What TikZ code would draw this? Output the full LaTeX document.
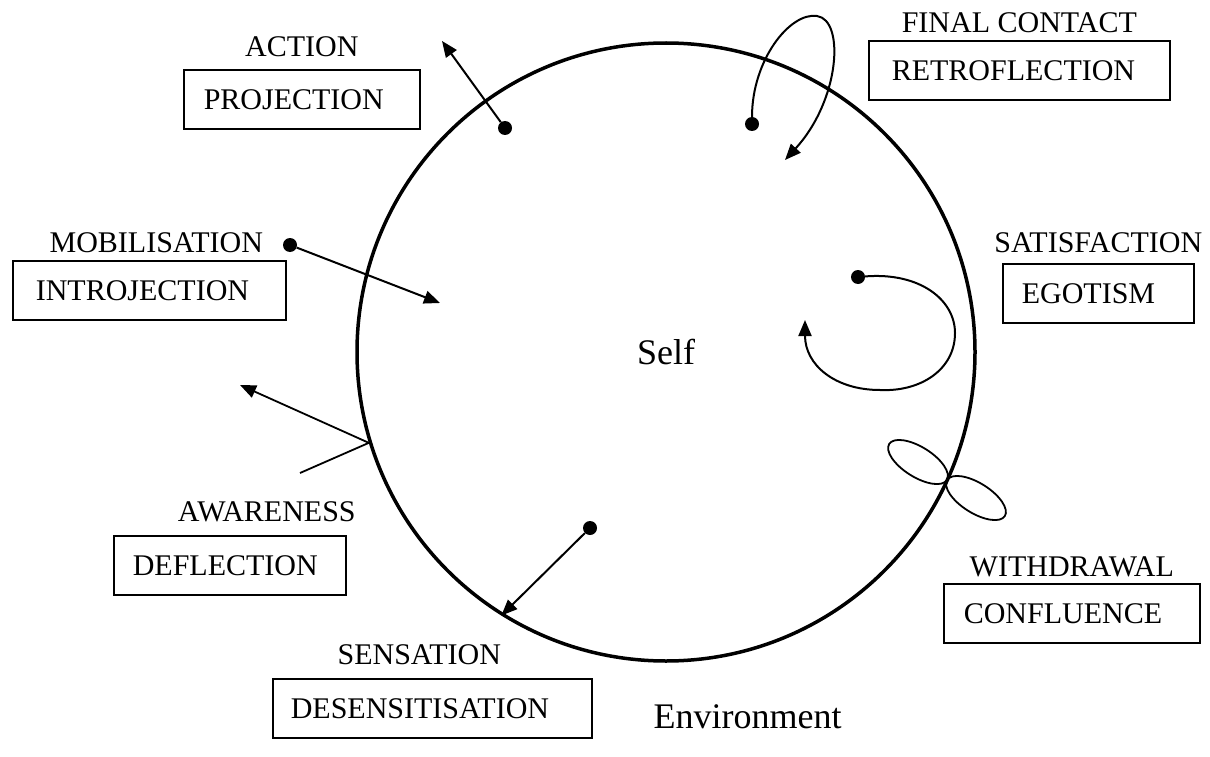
\documentclass[tikz,border=0pt]{standalone}
\usepackage{fontspec}
\setmainfont{Liberation Serif}
\usetikzlibrary{positioning,arrows.meta}

\begin{document}
\begin{tikzpicture}[x=1pt, y=-1pt]

\pgfmathsetlengthmacro{\boxHeight}{59pt}
\pgfmathsetlengthmacro{\dotSize}{14pt}
\pgfmathsetlengthmacro{\selfSize}{618pt}
\tikzset{
  stage/.style={draw, line width=1.6pt, minimum height=\boxHeight, anchor=north west, align=left, inner ysep=0pt, font=\fontsize{30}{36}\selectfont},
  phase/.style={inner sep=0pt, font=\fontsize{30}{36}\selectfont},
  dot/.style={circle, fill, inner sep=0pt, minimum size=\dotSize},
  flow/.style={line width=2pt, -{Triangle[length=16pt,width=13pt]}},
  petal/.style={line width=1.8pt},
}

\useasboundingbox (0,0) rectangle (1210,757);

\node[draw, circle, line width=3.5pt, minimum size=\selfSize, font=\fontsize{36}{42}\selectfont] (self) at (666,352) {Self};
\node[font=\fontsize{36}{42}\selectfont, anchor=west] (environment) at (650,717) {Environment};

  % stages
  \node[stage, text width=196pt, inner xsep=20pt] (projection) at (183,69) {PROJECTION};
  \node[stage, text width=255pt, inner xsep=23pt] (retroflection) at (868,40) {RETROFLECTION};
  \node[stage, text width=227pt, inner xsep=23pt] (introjection) at (12,260) {INTROJECTION};
  \node[stage, text width=153pt, inner xsep=19pt] (egotism) at (1002,263) {EGOTISM};
  \node[stage, text width=194pt, inner xsep=19pt] (deflection) at (113,535) {DEFLECTION};
  \node[stage, text width=216pt, inner xsep=20pt] (confluence) at (943,583) {CONFLUENCE};
  \node[stage, text width=283pt, inner xsep=18pt] (desensitisation) at (272,678) {DESENSITISATION};
  % phases
  \node[phase, above=12pt of projection] (action) {ACTION};
  \node[phase, above=7pt of retroflection] (finalcontact) {FINAL CONTACT};
  \node[phase, above=7pt of introjection, xshift=7pt] (mobilisation) {MOBILISATION};
  \node[phase, above=10pt of egotism] (satisfaction) {SATISFACTION};
  \node[phase, above=13pt of deflection, xshift=37pt] (awareness) {AWARENESS};
  \node[phase, above=6pt of confluence] (withdrawal) {WITHDRAWAL};
  \node[phase, above=13pt of desensitisation, xshift=-13pt] (sensation) {SENSATION};

% dots and ends
\node[dot] (actiondot) at (505,128) {};
\node[dot] (contactdot) at (752,124) {};
\node[dot] (mobdot) at (290,245) {};
\node[dot] (satdot) at (858,277) {};
\node[dot] (sensdot) at (590,528) {};
\coordinate (actiontip) at (442,41);
\coordinate (contacttop) at (817,16);
\coordinate (contacttip) at (785,160);
\coordinate (mobtip) at (440,303);
\coordinate (satright) at (955,333);
\coordinate (satbottom) at (880,390);
\coordinate (sattip) at (805,320);
\coordinate (deflectpoint) at (self.197);
\coordinate (deflecttip) at (240,385);
\coordinate (deflectend) at (300,473);
\coordinate (petalA) at (918,462);
\coordinate (petalB) at (976,498);

\draw[flow] (actiondot) -- (actiontip);
\draw[flow] (contactdot) .. controls (752,60) and (790,12) .. (contacttop) .. controls (845,20) and (840,100) .. (contacttip);
\draw[flow] (mobdot) -- (mobtip);
\draw[flow] (satdot) .. controls (920,272) and (955,300) .. (satright) .. controls (955,370) and (920,392) .. (satbottom) .. controls (835,390) and (805,365) .. (sattip);
\draw[flow] (sensdot) -- (self.238);
\draw[flow, line width=1.8pt] (deflectpoint) -- (deflecttip);
\draw[petal] (deflectpoint) -- (deflectend);
\draw[petal, rotate around={-32:(petalA)}] (petalA) ellipse [x radius=34, y radius=15];
\draw[petal, rotate around={-32:(petalB)}] (petalB) ellipse [x radius=34, y radius=15];

\end{tikzpicture}
\end{document}
